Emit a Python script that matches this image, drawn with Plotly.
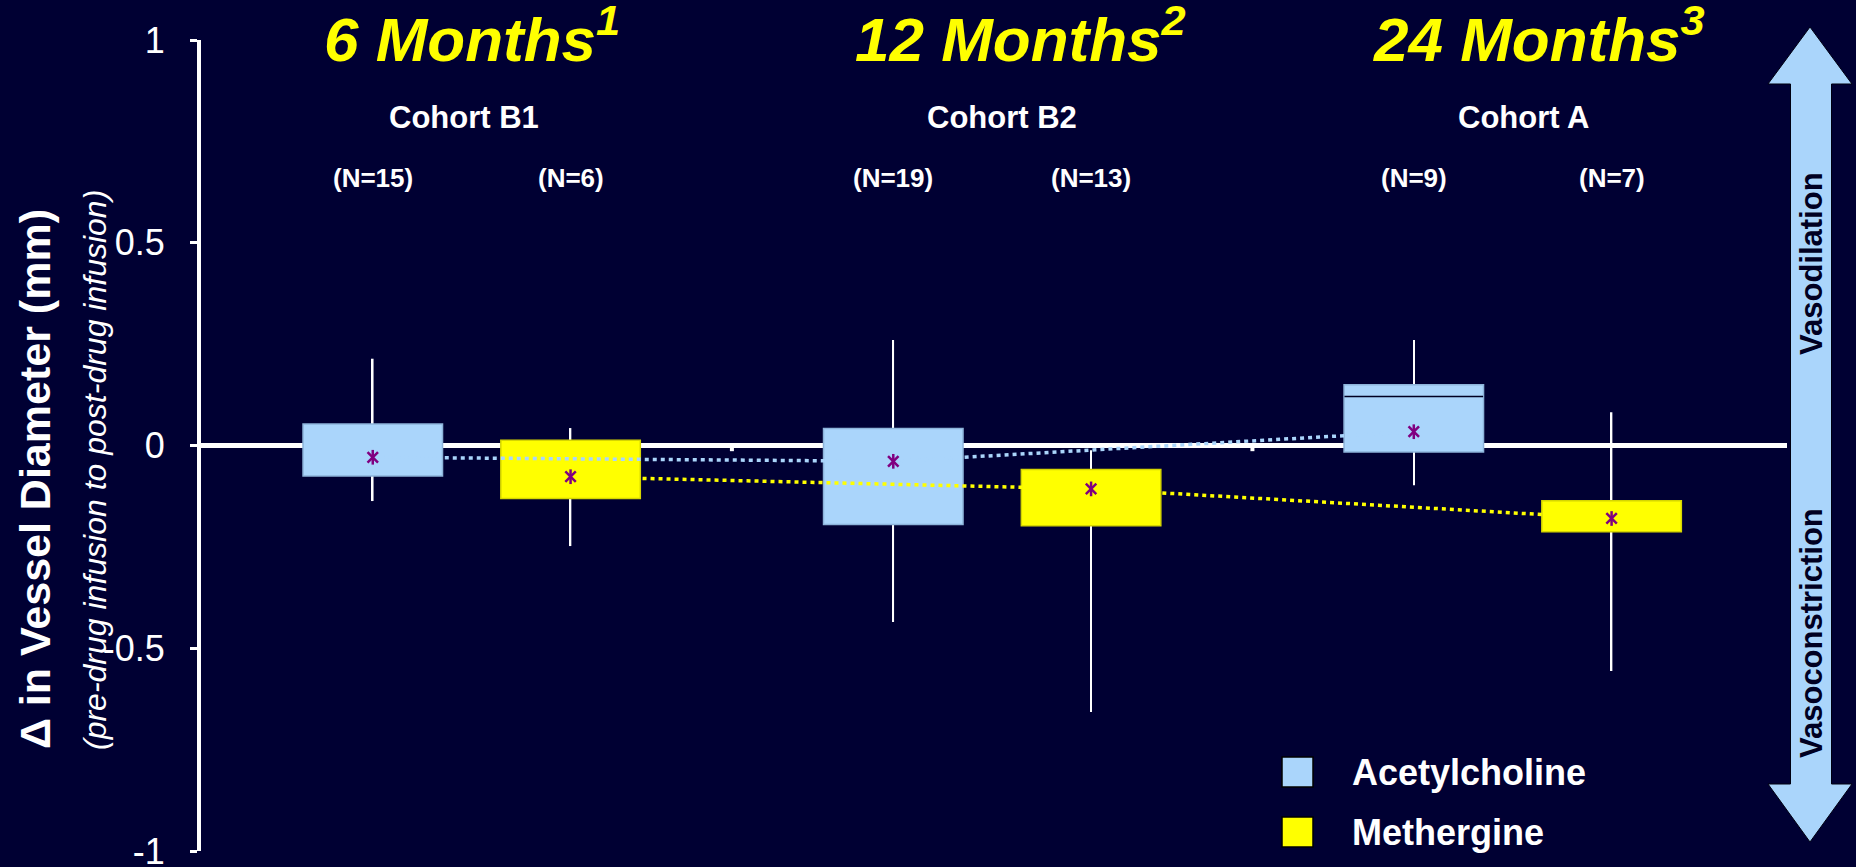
import plotly.graph_objects as go

# ---------------- data ----------------
groups = ["6 Months", "12 Months", "24 Months"]
group_refs = ["1", "2", "3"]
cohorts = ["Cohort B1", "Cohort B2", "Cohort A"]
series_names = ["Acetylcholine", "Methergine"]

ach_n = [15, 19, 9]
met_n = [6, 13, 7]

ach_q1 = [-0.075, -0.195, -0.016]
ach_q3 = [0.053, 0.042, 0.150]
ach_low = [-0.137, -0.435, -0.098]
ach_high = [0.214, 0.260, 0.260]
ach_mean = [-0.029, -0.039, 0.034]
ach_median = [None, None, 0.121]

met_q1 = [-0.131, -0.198, -0.213]
met_q3 = [0.013, -0.059, -0.136]
met_low = [-0.248, -0.657, -0.556]
met_high = [0.043, -0.012, 0.082]
met_mean = [-0.077, -0.107, -0.180]

y_tick_vals = [1, 0.5, 0, -0.5, -1]
y_tick_text = ["1", "0.5", "0", "-0.5", "-1"]

# ---------------- styles ----------------
BG = "#000033"
ACH_FILL = "#aad5fb"
ACH_EDGE = "#8db4da"
MET_FILL = "#ffff00"
MET_EDGE = "#d6d600"
MEAN_COLOR = "#800080"
FONT = "Liberation Sans, Arial, sans-serif"

FIG_W, FIG_H = 1856, 867
ML, MR, MT, MB = 201, 69, 40, 16
PW = FIG_W - ML - MR
PH = FIG_H - MT - MB


def pxx(x):
    return (x - ML) / PW


def pyy(y):
    return (FIG_H - MB - y) / PH


OFFSET = 0.19
BOX_W = 0.268
WHISKER_W = 0.003
idx = list(range(len(groups)))
ach_x = [i - OFFSET for i in idx]
met_x = [i + OFFSET for i in idx]

fig = go.Figure()

# whiskers (thin bars, drawn below the boxes)
for xs, lo, hi in [(ach_x, ach_low, ach_high), (met_x, met_low, met_high)]:
    fig.add_trace(go.Bar(x=xs, y=[h - l for l, h in zip(lo, hi)], base=lo, width=WHISKER_W,
                         marker=dict(color="white", line=dict(width=0)),
                         hoverinfo="skip", showlegend=False))

# boxes (q1 to q3)
fig.add_trace(go.Bar(name=series_names[0], x=ach_x,
                     y=[b - a for a, b in zip(ach_q1, ach_q3)], base=ach_q1,
                     width=BOX_W, marker=dict(color=ACH_FILL, line=dict(color=ACH_EDGE, width=1.5))))
fig.add_trace(go.Bar(name=series_names[1], x=met_x,
                     y=[b - a for a, b in zip(met_q1, met_q3)], base=met_q1,
                     width=BOX_W, marker=dict(color=MET_FILL, line=dict(color=MET_EDGE, width=1.5))))

# median line (visible only for 24-month acetylcholine)
fig.add_trace(go.Scatter(x=ach_x, y=ach_median, mode="markers",
                         marker=dict(symbol="line-ew-open", size=99, color="#000022",
                                     line=dict(color="#000022", width=1.5)),
                         hoverinfo="skip", showlegend=False))

# dotted lines through the means
fig.add_trace(go.Scatter(x=ach_x, y=ach_mean, mode="lines",
                         line=dict(color=ACH_FILL, width=3.5, dash="4px,4px"),
                         hoverinfo="skip", showlegend=False))
fig.add_trace(go.Scatter(x=met_x, y=met_mean, mode="lines",
                         line=dict(color=MET_FILL, width=3.5, dash="4px,4px"),
                         hoverinfo="skip", showlegend=False))

# mean markers (asterisk-like)
for xs, ms in [(ach_x, ach_mean), (met_x, met_mean)]:
    for sym in ["x-thin-open", "line-ns-open"]:
        fig.add_trace(go.Scatter(x=xs, y=ms, mode="markers",
                                 marker=dict(symbol=sym, size=10.5, color=MEAN_COLOR,
                                             line=dict(color=MEAN_COLOR, width=2.5)),
                                 hoverinfo="skip", showlegend=False))

annotations = []
title_x = [0.0, 1.055, 2.05]
cohort_x = [-0.015, 1.018, 2.02]
for g, ref, tx in zip(groups, group_refs, title_x):
    annotations.append(dict(text=f"{g}<sup>{ref}</sup>", x=tx, xref="x", y=pyy(35), yref="paper",
                            xanchor="center", yanchor="middle", showarrow=False,
                            font=dict(family=FONT, size=62, color="#ffff00", weight="bold", style="italic")))
for c, cx in zip(cohorts, cohort_x):
    annotations.append(dict(text=c, x=cx, xref="x", y=pyy(117.5), yref="paper",
                            xanchor="center", yanchor="middle", showarrow=False,
                            font=dict(family=FONT, size=31, color="white", weight="bold")))
for xs, ns in [(ach_x, ach_n), (met_x, met_n)]:
    for x, n in zip(xs, ns):
        annotations.append(dict(text=f"(N={n})", x=x, xref="x", y=pyy(178), yref="paper",
                                xanchor="center", yanchor="middle", showarrow=False,
                                font=dict(family=FONT, size=26, color="white", weight="bold")))

# axis titles
annotations.append(dict(text="\u0394 in Vessel Diameter (mm)", x=pxx(35), xref="paper",
                        y=pyy(479), yref="paper", textangle=-90, showarrow=False,
                        xanchor="center", yanchor="middle",
                        font=dict(family=FONT, size=43, color="white", weight="bold")))
annotations.append(dict(text="(pre-drug infusion to post-drug infusion)", x=pxx(95), xref="paper",
                        y=pyy(470), yref="paper", textangle=-90, showarrow=False,
                        xanchor="center", yanchor="middle",
                        font=dict(family=FONT, size=32, color="white", style="italic")))

# arrow labels
annotations.append(dict(text="Vasodilation", x=pxx(1811), xref="paper", y=pyy(264), yref="paper",
                        textangle=-90, showarrow=False, xanchor="center", yanchor="middle",
                        font=dict(family=FONT, size=31, color="#000022", weight="bold")))
annotations.append(dict(text="Vasoconstriction", x=pxx(1811), xref="paper", y=pyy(633), yref="paper",
                        textangle=-90, showarrow=False, xanchor="center", yanchor="middle",
                        font=dict(family=FONT, size=31, color="#000022", weight="bold")))

# legend
legend_rows = [(series_names[0], ACH_FILL, 772), (series_names[1], MET_FILL, 832)]
shapes = []
for name, col, yc in legend_rows:
    shapes.append(dict(type="rect", xref="paper", yref="paper",
                       x0=pxx(1282), x1=pxx(1313), y0=pyy(yc + 15), y1=pyy(yc - 15),
                       fillcolor=col, line=dict(color="black", width=1.5)))
    annotations.append(dict(text=name, x=pxx(1350), xref="paper", y=pyy(yc), yref="paper",
                            xanchor="left", yanchor="middle", showarrow=False,
                            font=dict(family=FONT, size=36, color="white", weight="bold")))

# double-headed arrow
pts = [(1810, 27), (1852, 84), (1831.5, 84), (1831.5, 784), (1852, 784), (1810, 842),
       (1768, 784), (1790.5, 784), (1790.5, 84), (1768, 84)]
path = "M " + " L ".join(f"{pxx(x):.5f},{pyy(y):.5f}" for x, y in pts) + " Z"
shapes.append(dict(type="path", xref="paper", yref="paper", path=path,
                   fillcolor=ACH_FILL, line=dict(color="#000011", width=1), layer="above"))

# small category dividers on the zero line
for xd in [0.5, 1.5]:
    shapes.append(dict(type="line", xref="x", yref="y", x0=xd, x1=xd, y0=0, y1=-0.014,
                       line=dict(color="white", width=4)))

fig.update_layout(
    width=FIG_W, height=FIG_H,
    paper_bgcolor=BG, plot_bgcolor=BG,
    margin=dict(l=ML, r=MR, t=MT, b=MB, autoexpand=False),
    barmode="overlay",
    showlegend=False,
    annotations=annotations,
    shapes=shapes,
    xaxis=dict(range=[-0.52, 2.527], showgrid=False, zeroline=False, showline=False,
               showticklabels=False, ticks=""),
    yaxis=dict(range=[-1, 1], tickvals=y_tick_vals, ticktext=y_tick_text,
               showline=True, linecolor="white", linewidth=4,
               ticks="outside", ticklen=7, tickwidth=3, tickcolor="white",
               showgrid=False, zeroline=True, zerolinecolor="white", zerolinewidth=4.5,
               tickfont=dict(family=FONT, size=36, color="white"), ticklabelstandoff=18,
               ticklabeloverflow="allow"),
)

fig.write_html("out.html", config={"displayModeBar": False},
               post_script="document.body.style.margin='0';document.body.style.overflow='hidden';")
